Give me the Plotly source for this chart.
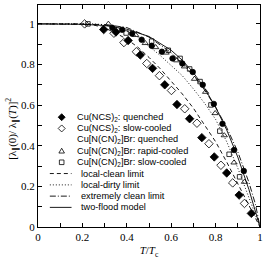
import plotly.graph_objects as go

# ---------------- data ----------------
ncs_q_t = [0.296, 0.351, 0.406, 0.461, 0.516, 0.571, 0.626, 0.683, 0.738, 0.794, 0.850, 0.906, 0.961]
ncs_q_y = [0.972, 0.960, 0.918, 0.847, 0.781, 0.700, 0.603, 0.533, 0.440, 0.345, 0.266, 0.157, 0.067]

ncs_s_t = [0.210, 0.342, 0.387, 0.443, 0.490, 0.547, 0.601, 0.661, 0.716, 0.770, 0.824, 0.877, 0.930]
ncs_s_y = [1.000, 0.954, 0.908, 0.863, 0.805, 0.745, 0.672, 0.582, 0.511, 0.410, 0.304, 0.217, 0.116]

br_q_t = [0.335, 0.379, 0.424, 0.467, 0.512, 0.558, 0.606, 0.650, 0.697, 0.742, 0.792, 0.831, 0.883, 0.927]
br_q_y = [0.981, 0.971, 0.952, 0.922, 0.892, 0.863, 0.830, 0.805, 0.763, 0.700, 0.606, 0.508, 0.379, 0.276]

br_r_t = [0.317, 0.440, 0.483, 0.530, 0.577, 0.625, 0.660, 0.705, 0.755, 0.798, 0.839, 0.883, 0.930]
br_r_y = [1.000, 0.945, 0.905, 0.885, 0.858, 0.820, 0.790, 0.729, 0.665, 0.560, 0.451, 0.317, 0.222]

br_s_t = [0.225, 0.397, 0.512, 0.587, 0.640, 0.683, 0.730, 0.779, 0.819, 0.861, 0.908]
br_s_y = [1.000, 0.955, 0.915, 0.870, 0.830, 0.778, 0.716, 0.601, 0.472, 0.358, 0.247]

clean_t = [0.0, 0.20, 0.25, 0.30, 0.35, 0.40, 0.45, 0.50, 0.55, 0.60, 0.65, 0.70, 0.75, 0.80, 0.85, 0.90, 0.95, 1.00]
clean_y = [1.0, 1.00, 0.995, 0.980, 0.955, 0.925, 0.885, 0.835, 0.780, 0.720, 0.655, 0.585, 0.505, 0.420, 0.320, 0.215, 0.110, 0.0]

dirty_t = [0.0, 0.25, 0.30, 0.35, 0.40, 0.45, 0.50, 0.55, 0.60, 0.65, 0.70, 0.75, 0.80, 0.85, 0.90, 0.95, 1.00]
dirty_y = [1.0, 1.00, 0.995, 0.985, 0.965, 0.935, 0.890, 0.845, 0.795, 0.745, 0.680, 0.610, 0.530, 0.420, 0.290, 0.140, 0.0]

xclean_t = [0.0, 0.20, 0.30, 0.40, 0.50, 0.60, 0.70, 0.75, 0.80, 0.85, 0.90, 0.95, 0.98, 1.00]
xclean_y = [1.0, 1.00, 0.997, 0.982, 0.935, 0.858, 0.748, 0.675, 0.590, 0.490, 0.370, 0.220, 0.110, 0.0]

twofl_t = [0.0, 0.20, 0.30, 0.40, 0.50, 0.60, 0.65, 0.70, 0.75, 0.80, 0.85, 0.90, 0.95, 0.975, 1.00]
twofl_y = [1.0, 0.998, 0.992, 0.974, 0.938, 0.870, 0.821, 0.760, 0.684, 0.590, 0.478, 0.344, 0.185, 0.096, 0.0]

x_ticks = [0.0, 0.2, 0.4, 0.6, 0.8, 1.0]
x_labels = ["0", "0.2", "0.4", "0.6", "0.8", "1"]
y_ticks = [0.0, 0.2, 0.4, 0.6, 0.8, 1.0]
y_labels = ["0", "0.2", "0.4", "0.6", "0.8", "1"]

legend_labels = [
    "Cu(NCS)<sub>2</sub>: quenched",
    "Cu(NCS)<sub>2</sub>: slow-cooled",
    "Cu[N(CN)<sub>2</sub>]Br: quenched",
    "Cu[N(CN)<sub>2</sub>]Br: rapid-cooled",
    "Cu[N(CN)<sub>2</sub>]Br: slow-cooled",
    "local-clean limit",
    "local-dirty limit",
    "extremely clean limit",
    "two-flood model",
]

# ---------------- figure ----------------
fig = go.Figure()
lw = 0.9
fig.add_trace(go.Scatter(x=clean_t, y=clean_y, mode="lines", line=dict(color="black", width=lw, dash="4px,3px")))
fig.add_trace(go.Scatter(x=dirty_t, y=dirty_y, mode="lines", line=dict(color="black", width=lw, dash="1px,2px")))
fig.add_trace(go.Scatter(x=xclean_t, y=xclean_y, mode="lines", line=dict(color="black", width=lw, dash="6px,2px,1px,2px")))
fig.add_trace(go.Scatter(x=twofl_t, y=twofl_y, mode="lines", line=dict(color="black", width=lw)))

mk = dict(color="black", line=dict(color="black", width=0.8))
fig.add_trace(go.Scatter(x=ncs_q_t, y=ncs_q_y, mode="markers", marker=dict(symbol="diamond", size=6.5, **mk)))
fig.add_trace(go.Scatter(x=ncs_s_t, y=ncs_s_y, mode="markers", marker=dict(symbol="diamond-open", size=6.5, **mk)))
fig.add_trace(go.Scatter(x=br_q_t, y=br_q_y, mode="markers", marker=dict(symbol="circle", size=5.5, **mk)))
fig.add_trace(go.Scatter(x=br_r_t, y=br_r_y, mode="markers", marker=dict(symbol="triangle-up-open", size=5.5, **mk)))
fig.add_trace(go.Scatter(x=br_s_t, y=br_s_y, mode="markers", marker=dict(symbol="square-open", size=4.5, **mk)))

# ---------------- manual legend ----------------
L, R, T, B = 38, 4, 4, 32
W, H = 267, 259
pw, ph = W - L - R, H - T - B

def px2x(p):
    return (p - L) / pw

def py2y(p):
    return (H - B - p) / ph

row_py = [116.7, 128.0, 139.3, 150.7, 162.0, 173.3, 184.7, 196.0, 207.3]
shapes = []
annotations = []
mx = px2x(62)
paths = [
    ("M0,-3.5L3.5,0L0,3.5L-3.5,0Z", "black"),
    ("M0,-3.5L3.5,0L0,3.5L-3.5,0Z", "white"),
    ("M-2.8,0A2.8,2.8 0 1,1 2.8,0A2.8,2.8 0 1,1 -2.8,0Z", "black"),
    ("M0,2.8L2.8,-2L-2.8,-2Z", "white"),
    ("M-2.3,-2.3L2.3,-2.3L2.3,2.3L-2.3,2.3Z", "white"),
]
for i, (p, fill) in enumerate(paths):
    shapes.append(dict(type="path", xref="paper", yref="paper", xsizemode="pixel", ysizemode="pixel",
                       xanchor=mx, yanchor=py2y(row_py[i]), path=p, fillcolor=fill,
                       line=dict(color="black", width=0.8)))
dashes = ["4px,3px", "1px,2px", "6px,2px,1px,2px", "solid"]
for j, d in enumerate(dashes):
    yy = py2y(row_py[5 + j])
    shapes.append(dict(type="line", xref="paper", yref="paper", x0=px2x(50), x1=px2x(72), y0=yy, y1=yy,
                       line=dict(color="black", width=lw, dash=d)))
for i, lab in enumerate(legend_labels):
    tx = px2x(75) if i < 5 else px2x(80)
    annotations.append(dict(text=lab, xref="paper", yref="paper", x=tx, y=py2y(row_py[i]), xanchor="left",
                            yanchor="middle", showarrow=False,
                            font=dict(family="Liberation Sans, Arial", size=9.2, color="black")))

annotations.append(dict(text="[λ<sub>∥</sub>(0)/ λ<sub>∥</sub>(<i>T</i>)]<sup>2</sup>", xref="paper", yref="paper",
                        x=px2x(12), y=py2y(128), textangle=-90, showarrow=False, xanchor="center", yanchor="middle",
                        font=dict(family="Liberation Serif, Times New Roman", size=11, color="black")))

axis_common = dict(showline=True, linecolor="black", linewidth=1, mirror="allticks", ticks="inside", ticklen=4,
                   tickwidth=1, tickcolor="black", showgrid=False, zeroline=False,
                   minor=dict(ticks="inside", ticklen=4, tickwidth=1, tickcolor="black", dtick=0.1, showgrid=False),
                   tickfont=dict(family="Liberation Serif, Times New Roman", size=11, color="black"))

fig.update_layout(
    width=W, height=H, margin=dict(l=L, r=R, t=T, b=B),
    paper_bgcolor="white", plot_bgcolor="white", showlegend=False,
    xaxis=dict(range=[0, 1], tickmode="array", tickvals=x_ticks, ticktext=x_labels,
               title=dict(text="<i>T</i>/<i>T</i><sub>c</sub>", standoff=4,
                          font=dict(family="Liberation Serif, Times New Roman", size=11, color="black")),
               **axis_common),
    yaxis=dict(range=[0, 1.093], tickmode="array", tickvals=y_ticks, ticktext=y_labels, **axis_common),
    shapes=shapes, annotations=annotations,
)

fig.write_html("out.html", config={"displayModeBar": False},
               post_script="document.body.style.margin='0px';document.body.style.overflow='hidden';")
